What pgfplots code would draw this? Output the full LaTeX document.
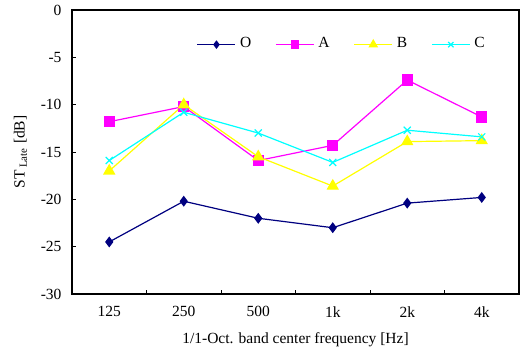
\documentclass[border=0pt]{standalone}
\usepackage{pgfplots}
\pgfplotsset{compat=1.18}
\usepackage{fontspec}
\setmainfont{Liberation Serif}
\definecolor{cO}{RGB}{0,0,128}
\definecolor{cA}{RGB}{255,0,255}
\definecolor{cB}{RGB}{255,255,0}
\definecolor{cC}{RGB}{0,255,255}
\begin{document}
\begin{tikzpicture}
\useasboundingbox (-72pt,-67pt) rectangle (449pt,294pt);
\begin{axis}[
  at={(0,0)}, anchor=south west,
  scale only axis, width=447pt, height=284pt,
  xmin=-0.5, xmax=5.5, ymin=-30, ymax=0,
  xtick={0,...,5}, xticklabels={125,250,500,1k,2k,4k},
  major x tick style={draw=none},
  minor xtick={0.5,1.5,2.5,3.5,4.5},
  minor tick length=4pt,
  ytick={-30,-25,...,0},
  major tick length=4pt,
  tick align=inside,
  xtick pos=bottom, ytick pos=left,
  axis line style={line width=1.2pt},
  tick style={black, line width=0.8pt},
  /pgf/number format/assume math mode=true,
  ticklabel style={font=\fontsize{15.5}{18}\selectfont},
  yticklabel style={xshift=-7pt},
  xticklabel style={yshift=-9pt},
  xlabel={1/1-Oct. band center frequency [Hz]},
  ylabel={ST\textsubscript{ Late} [dB]},
  label style={font=\fontsize{15.5}{18}\selectfont},
  xlabel style={yshift=-8pt},
  ylabel shift=7pt,
  legend style={draw=none, fill=none, at={(0.935,0.878)}, anchor=east,
    legend columns=4, font=\fontsize{15.5}{18}\selectfont,
    nodes={text height=1.6ex, text depth=0.2ex},
    /tikz/every odd column/.append style={column sep=2pt},
    /tikz/every even column/.append style={column sep=22pt}},
  legend image code/.code={\draw[mark repeat=2,mark phase=2,#1,every mark/.append style={scale=0.75}] plot coordinates {(0pt,0pt) (19pt,0pt) (38pt,0pt)};},
]
\addplot[cO, line width=1.2pt, mark=diamond*, mark size=4.5pt, mark options={fill=cO}]
  coordinates {(0,-24.5) (1,-20.2) (2,-22.0) (3,-23.0) (4,-20.4) (5,-19.8)};
\addlegendentry{O}
\addplot[cA, line width=1.2pt, mark=square*, mark size=5pt, mark options={fill=cA}]
  coordinates {(0,-11.8) (1,-10.2) (2,-15.9) (3,-14.3) (4,-7.4) (5,-11.3)};
\addlegendentry{A}
\addplot[cB, line width=1.2pt, mark=triangle*, mark size=6pt, mark options={fill=cB}]
  coordinates {(0,-17.0) (1,-10.0) (2,-15.5) (3,-18.6) (4,-13.9) (5,-13.8)};
\addlegendentry{B}
\addplot[cC, line width=1.2pt, mark=x, mark size=5pt, mark options={line width=1.2pt}]
  coordinates {(0,-15.9) (1,-10.8) (2,-13.0) (3,-16.1) (4,-12.7) (5,-13.4)};
\addlegendentry{C}
\end{axis}
\end{tikzpicture}
\end{document}
